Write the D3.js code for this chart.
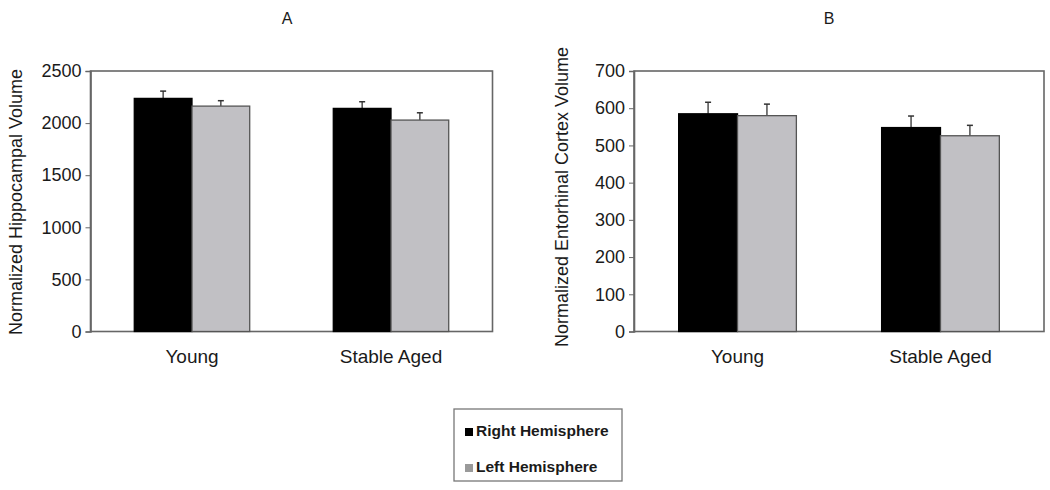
<!DOCTYPE html>
<html>
<head>
<meta charset="utf-8">
<script src="https://cdn.jsdelivr.net/npm/d3@7"></script>
<style>
  body { margin: 0; background: #fff; }
  svg text { font-family: Arial, "Liberation Sans", sans-serif; fill: #1a1a1a; }
</style>
</head>
<body>
<div id="chart"></div>
<script>
// data
const groups = ['Young', 'Stable Aged'];
const series = ['Right Hemisphere', 'Left Hemisphere'];
const hippoMeans = [[2237, 2163], [2141, 2029]];
const hippoErr = [[70, 52], [64, 70]];
const entoMeans = [[585, 580], [548, 526]];
const entoErr = [[31, 31], [31, 28]];
const hippoTicks = [0, 500, 1000, 1500, 2000, 2500];
const entoTicks = [0, 100, 200, 300, 400, 500, 600, 700];

const colors = ['#000000', '#c1c0c4'];
const strokes = ['#000000', '#555555'];

const svg = d3.select('#chart').append('svg')
    .attr('width', 1050)
    .attr('height', 490);

function drawPanel(opts) {
  const w = opts.right - opts.left, h = opts.bottom - opts.top;
  const g = svg.append('g').attr('transform', `translate(${opts.left},${opts.top})`);

  const x0 = d3.scaleBand().domain(groups).range([0, w])
      .paddingInner(0.42).paddingOuter(0.22);
  const x1 = d3.scaleBand().domain(series).range([0, x0.bandwidth()]);
  const y = d3.scaleLinear().domain([0, opts.max]).range([h, 0]);

  // frame
  g.append('rect')
    .attr('x', 0).attr('y', 0).attr('width', w).attr('height', h)
    .attr('fill', 'none').attr('stroke', '#666').attr('stroke-width', 1.6);

  // y axis
  const yAx = g.append('g')
    .call(d3.axisLeft(y).tickValues(opts.ticks).tickFormat(d3.format('d'))
      .tickSize(5).tickPadding(4));
  yAx.select('.domain').attr('stroke', '#666').attr('stroke-width', 1.6);
  yAx.selectAll('.tick line').attr('stroke', '#666');
  yAx.selectAll('.tick text').attr('font-size', 18).attr('fill', '#1a1a1a')
    .attr('font-family', 'Arial, "Liberation Sans", sans-serif');

  // bars
  const grp = g.selectAll('.grp').data(groups).enter().append('g')
    .attr('transform', d => `translate(${x0(d)},0)`);

  grp.each(function(gName, gi) {
    const sel = d3.select(this);
    series.forEach((s, si) => {
      const v = opts.means[gi][si], e = opts.err[gi][si];
      const cx = x1(s) + x1.bandwidth() / 2;
      // error bar (upper only)
      sel.append('line')
        .attr('x1', cx).attr('x2', cx)
        .attr('y1', y(v)).attr('y2', y(v + e))
        .attr('stroke', '#333').attr('stroke-width', 1.3);
      sel.append('line')
        .attr('x1', cx - 3).attr('x2', cx + 3)
        .attr('y1', y(v + e)).attr('y2', y(v + e))
        .attr('stroke', '#333').attr('stroke-width', 1.5);
      sel.append('rect')
        .attr('x', x1(s)).attr('y', y(v))
        .attr('width', x1.bandwidth()).attr('height', h - y(v))
        .attr('fill', colors[si]).attr('stroke', strokes[si]).attr('stroke-width', 1.3);
    });
  });

  // x labels
  g.selectAll('.xl').data(groups).enter().append('text')
    .attr('x', d => x0(d) + x0.bandwidth() / 2)
    .attr('y', h + 31)
    .attr('text-anchor', 'middle')
    .attr('font-size', 19)
    .text(d => d);

  // y title
  g.append('text')
    .attr('transform', `translate(${opts.titleX - opts.left},${opts.titleY - opts.top}) rotate(-90)`)
    .attr('text-anchor', 'middle')
    .attr('font-size', 18)
    .text(opts.yLabel);

  // panel letter
  svg.append('text')
    .attr('x', opts.letterX).attr('y', 24)
    .attr('text-anchor', 'middle')
    .attr('font-size', 16)
    .text(opts.letter);
}

drawPanel({left: 90.5, right: 492.5, top: 71, bottom: 331.5, max: 2500,
  ticks: hippoTicks, means: hippoMeans, err: hippoErr,
  yLabel: 'Normalized Hippocampal Volume', titleX: 22, titleY: 202,
  letter: 'A', letterX: 287});

drawPanel({left: 634, right: 1044, top: 71, bottom: 331.5, max: 700,
  ticks: entoTicks, means: entoMeans, err: entoErr,
  yLabel: 'Normalized Entorhinal Cortex Volume', titleX: 568, titleY: 197,
  letter: 'B', letterX: 829});

// legend
const leg = svg.append('g').attr('transform', 'translate(454,409)');
leg.append('rect').attr('width', 168).attr('height', 72)
  .attr('fill', '#fff').attr('stroke', '#777').attr('stroke-width', 1.3);
series.forEach((s, i) => {
  leg.append('rect')
    .attr('x', 11).attr('y', 19 + i * 36)
    .attr('width', 8).attr('height', 8)
    .attr('fill', i === 0 ? '#000' : '#9a9a9a');
  leg.append('text')
    .attr('x', 22).attr('y', 27 + i * 36)
    .attr('font-size', 15.5).attr('font-weight', 'bold')
    .text(s);
});
</script>
</body>
</html>
